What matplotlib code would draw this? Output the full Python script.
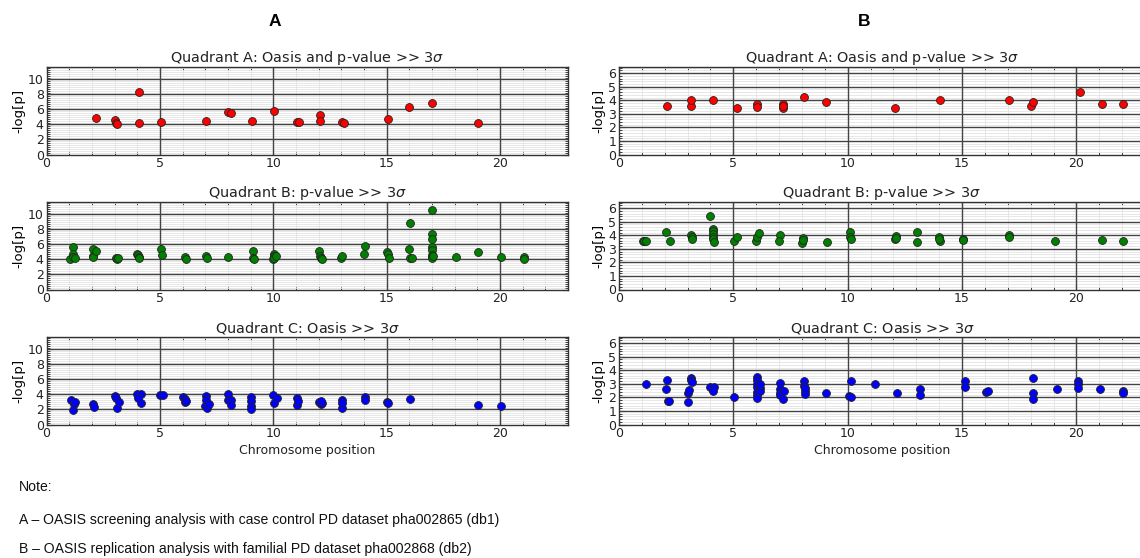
import matplotlib
matplotlib.use('Agg')
import matplotlib.pyplot as plt
from matplotlib.ticker import MultipleLocator

# ---------------- data: panel A (db1) ----------------
a_qa_x = [2.2, 3.0, 3.05, 3.1, 4.1, 4.1, 5.05, 7.05, 8.0, 8.15, 9.05, 10.05,
          11.05, 11.15, 12.05, 12.05, 13.05, 13.1, 15.05, 16.0, 17.0, 19.05]
a_qa_y = [4.85, 4.65, 4.25, 4.0, 8.3, 4.2, 4.3, 4.5, 5.7, 5.5, 4.5, 5.8,
          4.3, 4.3, 5.3, 4.5, 4.3, 4.2, 4.75, 6.3, 6.8, 4.2]

a_qb_x = [1.05, 1.15, 1.15, 1.15, 1.25, 2.05, 2.05, 2.05, 2.2, 3.05, 3.1, 3.15,
          4.0, 4.05, 4.1, 4.1, 5.05, 5.1, 6.1, 6.15, 7.05, 7.1, 8.0,
          9.1, 9.1, 9.15, 10.0, 10.05, 10.05, 10.05, 10.1,
          12.0, 12.05, 12.1, 12.15, 13.0, 13.05, 14.0, 14.05,
          15.0, 15.05, 15.1, 16.0, 16.05, 16.05, 16.1,
          17.0, 17.0, 17.0, 17.0, 17.0, 17.0, 17.0, 17.0, 17.05,
          18.05, 19.05, 20.05, 21.05, 21.05]
a_qb_y = [4.1, 5.6, 4.7, 4.3, 4.25, 5.45, 4.45, 4.3, 5.1, 4.25, 4.1, 4.2,
          4.75, 4.6, 4.3, 4.2, 5.35, 4.65, 4.35, 4.1, 4.4, 4.15, 4.3,
          5.1, 4.2, 4.1, 4.0, 4.75, 4.45, 4.2, 4.5,
          5.1, 4.45, 4.2, 4.1, 4.2, 4.5, 4.7, 5.8,
          5.0, 4.7, 4.15, 5.45, 8.8, 4.25, 4.25,
          10.6, 7.4, 6.75, 5.6, 5.2, 4.65, 4.3, 4.15, 4.45,
          4.3, 5.0, 4.3, 4.3, 4.1]

a_qc_x = [1.1, 1.15, 1.2, 1.25, 2.05, 2.1, 3.0, 3.05, 3.1, 3.2,
          4.0, 4.15, 4.15, 4.05, 5.0, 5.15, 6.0, 6.1, 6.1, 6.15,
          7.0, 7.05, 7.05, 7.1, 7.15, 8.0, 8.0, 8.15, 8.15,
          9.0, 9.0, 9.0, 9.0, 10.0, 10.05, 10.15, 11.05, 11.05, 11.1,
          12.0, 12.1, 12.15, 12.1, 13.05, 13.05, 13.05, 14.05, 14.05,
          15.0, 15.05, 16.05, 19.05, 20.05]
a_qc_y = [3.25, 1.95, 2.7, 3.0, 2.75, 2.35, 3.8, 3.5, 2.25, 3.0,
          4.05, 4.05, 2.9, 3.5, 3.95, 3.9, 3.65, 3.35, 2.95, 3.1,
          2.4, 3.8, 3.3, 2.25, 2.7, 4.1, 3.2, 3.2, 2.6,
          3.7, 3.1, 2.5, 2.05, 3.95, 2.9, 3.55, 3.5, 2.55, 3.1,
          3.0, 2.7, 2.9, 3.1, 3.2, 2.2, 2.9, 3.7, 3.3,
          3.05, 2.85, 3.4, 2.55, 2.45]

# ---------------- data: panel B (db2) ----------------
b_qa_x = [2.1, 3.15, 3.15, 4.1, 5.15, 6.05, 6.05, 7.15, 7.15, 7.15, 8.1, 9.05,
          12.05, 14.05, 17.05, 18.0, 18.1, 20.15, 21.1, 22.05]
b_qa_y = [3.6, 3.6, 4.0, 4.0, 3.45, 3.7, 3.5, 3.7, 3.45, 3.55, 4.25, 3.85,
          3.45, 4.05, 4.05, 3.6, 3.85, 4.6, 3.7, 3.7]

b_qb_x = [1.05, 1.1, 1.2, 2.05, 2.25, 3.15, 3.2, 3.2,
          4.0, 4.1, 4.1, 4.1, 4.1, 4.1, 4.15, 5.05, 5.15, 6.0, 6.05, 6.1,
          7.05, 7.0, 8.0, 8.05, 8.05, 9.1, 10.1, 10.1, 10.15,
          12.1, 12.05, 12.1, 13.05, 13.05, 14.0, 14.05, 14.0, 15.05, 15.05,
          17.05, 17.05, 19.05, 21.1, 22.05]
b_qb_y = [3.6, 3.6, 3.6, 4.25, 3.6, 4.05, 3.9, 3.7,
          5.4, 4.45, 4.3, 4.1, 3.9, 3.75, 3.5, 3.55, 3.85, 3.55, 3.9, 4.2,
          4.05, 3.55, 3.45, 3.8, 3.65, 3.5, 4.25, 3.85, 3.7,
          3.95, 3.7, 3.8, 4.25, 3.5, 3.9, 3.6, 3.75, 3.75, 3.65,
          4.05, 3.85, 3.55, 3.65, 3.6]

b_qc_x = [1.2, 2.05, 2.1, 2.15, 2.2, 3.0, 3.0, 3.05, 3.15, 3.15, 3.2,
          4.0, 4.15, 4.1, 5.05,
          6.05, 6.05, 6.05, 6.05, 6.05, 6.05, 6.05, 6.15, 6.15, 6.15,
          7.05, 7.05, 7.05, 7.05, 7.15, 7.2,
          8.1, 8.1, 8.15, 8.15, 8.15, 9.05, 10.15, 10.05, 10.15,
          11.2, 12.15, 13.15, 13.15, 15.15, 15.15, 16.05, 16.15,
          18.1, 18.1, 18.1, 19.15, 20.05, 20.05, 20.05, 21.05, 22.05, 22.05]
b_qc_y = [2.95, 2.6, 3.25, 1.75, 1.75, 1.65, 2.35, 2.55, 3.45, 3.3, 3.1,
          2.8, 2.75, 2.45, 2.0,
          3.5, 3.3, 3.0, 2.8, 2.4, 2.15, 1.95, 2.7, 2.5, 2.95,
          3.05, 2.6, 2.35, 2.15, 1.9, 2.5,
          3.2, 2.85, 2.5, 2.25, 2.7, 2.3, 3.2, 2.1, 2.05,
          2.95, 2.35, 2.6, 2.2, 3.2, 2.75, 2.4, 2.45,
          3.4, 2.3, 1.85, 2.65, 3.2, 2.95, 2.7, 2.65, 2.5, 2.35]

titles = ["Quadrant A: Oasis and p-value >> 3$\\sigma$",
          "Quadrant B: p-value >> 3$\\sigma$",
          "Quadrant C: Oasis >> 3$\\sigma$"]
colors = ["#ff0000", "#008000", "#0000ff"]
panel_labels = ["A", "B"]
notes = ["Note:",
         "A \u2013 OASIS screening analysis with case control PD dataset pha002865 (db1)",
         "B \u2013 OASIS replication analysis with familial PD dataset pha002868 (db2)"]

W, H = 1140, 558
fig = plt.figure(figsize=(W / 100, H / 100), dpi=100)
fig.patch.set_facecolor('white')


def rect(l, t, r, b):
    return [l / W, 1 - b / H, (r - l) / W, (b - t) / H]


def style_axes(ax, ymax, ystep, yminor):
    ax.set_xlim(0, 23)
    ax.set_ylim(0, ymax)
    ax.xaxis.set_major_locator(MultipleLocator(5))
    ax.xaxis.set_minor_locator(MultipleLocator(1))
    ax.yaxis.set_major_locator(MultipleLocator(ystep))
    ax.yaxis.set_minor_locator(MultipleLocator(yminor))
    ax.set_axisbelow(True)
    # light minor grid from the axis machinery
    ax.grid(which='minor', color='#e3e3e3', linewidth=0.6, linestyle='-')
    ax.grid(which='major', visible=False)
    # dark major grid drawn above the minor grid
    for v in ax.get_xticks():
        if 0 < v < 23:
            ax.axvline(v, color='#444444', linewidth=1.0, zorder=1)
    for v in ax.get_yticks():
        if 0 < v < ymax:
            ax.axhline(v, color='#444444', linewidth=1.0, zorder=1)
    ax.tick_params(which='both', direction='in', top=True, right=True,
                   labelsize=9, colors='#222222', pad=2)
    ax.tick_params(which='major', length=4)
    ax.tick_params(which='minor', length=2)
    for sp in ax.spines.values():
        sp.set_color('#333333')
        sp.set_linewidth(1.0)
    ax.set_ylabel('-log[p]', fontsize=9.5, labelpad=2)


cols = [
    dict(left=46.5, right=568, ymax=11.65, ystep=2, yminor=0.25,
         data=[(a_qa_x, a_qa_y), (a_qb_x, a_qb_y), (a_qc_x, a_qc_y)]),
    dict(left=619, right=1145, ymax=6.45, ystep=1, yminor=0.2,
         data=[(b_qa_x, b_qa_y), (b_qb_x, b_qb_y), (b_qc_x, b_qc_y)]),
]
tops = [67, 202, 337]
height = 87.5

for ci, col in enumerate(cols):
    for ri in range(3):
        t = tops[ri]
        ax = fig.add_axes(rect(col['left'], t, col['right'], t + height))
        style_axes(ax, col['ymax'], col['ystep'], col['yminor'])
        x, y = col['data'][ri]
        ax.scatter(x, y, s=32, c=colors[ri], edgecolors='#222222',
                   linewidths=0.6, zorder=3, clip_on=False)
        ax.set_title(titles[ri], fontsize=10.4, pad=3.5, color='#222222')
        if ri == 2:
            ax.set_xlabel('Chromosome position', fontsize=9, labelpad=3,
                          color='#222222')

# panel letters
fig.text(275 / W, 1 - 21 / H, panel_labels[0], fontsize=12.5, fontweight='bold',
         family='Liberation Sans', ha='center', va='center')
fig.text(864 / W, 1 - 21 / H, panel_labels[1], fontsize=12.5, fontweight='bold',
         family='Liberation Sans', ha='center', va='center')

# notes
for txt, yy in zip(notes, [487, 520, 549]):
    fig.text(19 / W, 1 - yy / H, txt, fontsize=10.1, family='Liberation Sans',
             ha='left', va='center', color='#111111')

fig.savefig('out.png', dpi=100, facecolor='white')
